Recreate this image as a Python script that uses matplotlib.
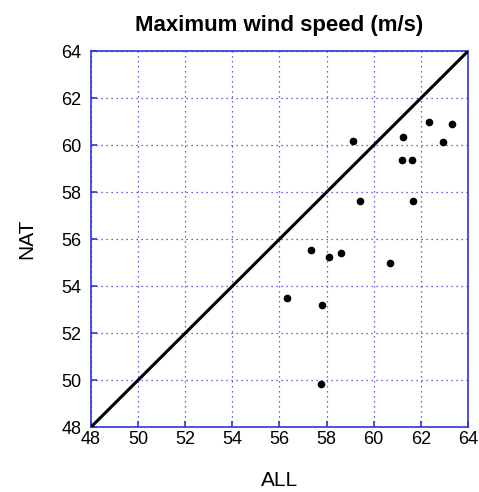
import matplotlib
matplotlib.use("Agg")
import matplotlib.pyplot as plt

# Maximum wind speed: ALL forcing vs natural-only (NAT) runs
all_speed = [59.13, 61.26, 62.33, 63.32, 62.95, 61.18, 61.62, 59.43,
             61.68, 57.34, 58.12, 58.62, 60.69, 56.33, 57.79, 57.75]
nat_speed = [60.18, 60.33, 60.98, 60.91, 60.13, 59.35, 59.35, 57.63,
             57.62, 55.52, 55.23, 55.42, 54.99, 53.48, 53.19, 49.82]

ticks = [48, 50, 52, 54, 56, 58, 60, 62, 64]
lo, hi = 48, 64

plt.rcParams['font.family'] = ['Liberation Sans', 'DejaVu Sans']

W, H = 479, 492
fig = plt.figure(figsize=(W / 100, H / 100), dpi=100)
ax = fig.add_axes([0.19, 0.132, 0.787, 0.764])

# 1:1 reference line
ax.plot([lo, hi], [lo, hi], color='black', lw=2.2, zorder=3)
ax.plot(all_speed, nat_speed, 'o', color='black', ms=4.5, mec='black',
        mfc='black', zorder=4)

ax.set_xlim(lo, hi)
ax.set_ylim(lo, hi)
ax.set_xticks(ticks)
ax.set_yticks(ticks)
ax.grid(True, color='#3333dd', linestyle=(0, (1, 3)), lw=0.9)
for s in ax.spines.values():
    s.set_color('#3333dd')
    s.set_linewidth(1.2)
ax.tick_params(direction='in', colors='#3333dd', length=4, width=1.2,
               labelcolor='black', labelsize=13)
ax.tick_params(axis='x', pad=3)
ax.tick_params(axis='y', pad=7)

# title centre sits 25 px below the top edge of the figure
title_y = 1 + (H * (1 - 0.896) - 25) / (H * 0.764)
ax.set_title('Maximum wind speed (m/s)', fontsize=16, fontweight='bold',
             y=title_y, va='center', pad=0)

ax.set_xlabel('ALL', fontsize=15)
ax.set_ylabel('NAT', fontsize=15)
ax.xaxis.label.set_va('center')
ax.yaxis.label.set_va('center')
# place the axis labels by pixel offsets from the axes edges
ax.xaxis.set_label_coords(0.5, (H - 481 - H * 0.132) / (H * 0.764))
ax.yaxis.set_label_coords((27 - W * 0.19) / (W * 0.787), 0.5)

fig.savefig('out.png', dpi=100)
